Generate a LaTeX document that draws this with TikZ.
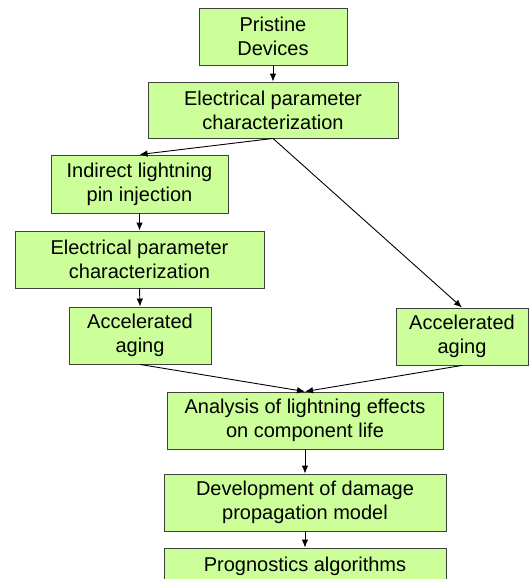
\documentclass[tikz,border=0pt]{standalone}
\usepackage{fontspec}
\setmainfont{Liberation Sans}
\usetikzlibrary{arrows.meta}
\definecolor{boxgreen}{RGB}{204,255,153}
\begin{document}
\begin{tikzpicture}[x=1pt,y=-1pt,
  box/.style={draw=black!75, fill=boxgreen, line width=0.9pt, align=center,
    inner sep=0pt, font=\fontsize{20}{24}\selectfont},
  arr/.style={-{Latex[length=8pt,width=6.5pt]}, line width=0.9pt}]
\useasboundingbox (0,0) rectangle (529,579);
\clip (0,0) rectangle (529,579);
\node[box, minimum width=148pt, minimum height=57pt] (n1) at (273,36.5) {Pristine\\Devices};
\node[box, minimum width=250pt, minimum height=56pt] (n2) at (273,110) {Electrical parameter\\characterization};
\node[box, minimum width=177pt, minimum height=58pt] (n3) at (139.5,184) {Indirect lightning\\pin injection};
\node[box, minimum width=249pt, minimum height=57pt] (n4) at (139.5,259.5) {Electrical parameter\\characterization};
\node[box, minimum width=142pt, minimum height=57pt] (n5) at (140,335.5) {Accelerated\\aging};
\node[box, minimum width=132pt, minimum height=57pt] (n6) at (462,336.5) {Accelerated\\aging};
\node[box, minimum width=276pt, minimum height=57pt] (n7) at (305,420.5) {Analysis of lightning effects\\on component life};
\node[box, minimum width=282pt, minimum height=57pt] (n8) at (305,502.5) {Development of damage\\propagation model};
\node[box, minimum width=282pt, minimum height=37pt] (n9) at (305,566.5) {Prognostics algorithms};
\draw[arr] (n1.south) -- (n2.north);
\draw[arr] (n2.south) -- (n3.north);
\draw[arr] (n2.south) -- (n6.north);
\draw[arr] (n3.south) -- (n4.north);
\draw[arr] (n4.south) -- (n5.north);
\draw[arr] (n5.south) -- (n7.north);
\draw[arr] (n6.south) -- (n7.north);
\draw[arr] (n7.south) -- (n8.north);
\draw[arr] (n8.south) -- (n9.north);
\end{tikzpicture}
\end{document}
